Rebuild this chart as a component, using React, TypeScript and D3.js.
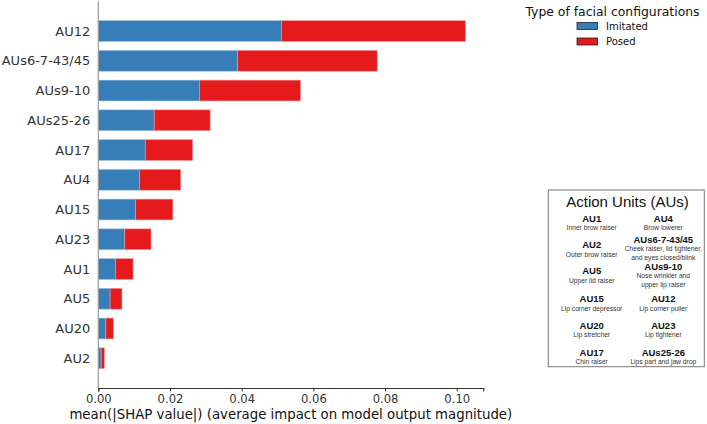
import React, { useEffect, useRef } from 'react';
import * as d3 from 'd3';

const categories = [
  'AU12',
  'AUs6-7-43/45',
  'AUs9-10',
  'AUs25-26',
  'AU17',
  'AU4',
  'AU15',
  'AU23',
  'AU1',
  'AU5',
  'AU20',
  'AU2',
];
const imitated = [0.0511, 0.0389, 0.0282, 0.0156, 0.0131, 0.0115, 0.0104, 0.0074, 0.0048, 0.0033, 0.0021, 0.0008];
const posed = [0.0513, 0.0389, 0.0282, 0.0156, 0.0132, 0.0115, 0.0104, 0.0073, 0.0049, 0.0033, 0.0021, 0.0009];
const seriesNames = ['Imitated', 'Posed'];
const xTicks = [0, 0.02, 0.04, 0.06, 0.08, 0.1];

// legend box of the action units: [left column, right column]
const auRows = [
  [{ code: 'AU1', desc: ['Inner brow raiser'] }, { code: 'AU4', desc: ['Brow lowerer'] }],
  [
    { code: 'AU2', desc: ['Outer brow raiser'] },
    { code: 'AUs6-7-43/45', desc: ['Cheek raiser, lid tightener,', 'and eyes closed/blink'] },
  ],
  [{ code: 'AU5', desc: ['Upper lid raiser'] }, { code: 'AUs9-10', desc: ['Nose wrinkler and', 'upper lip raiser'] }],
  [{ code: 'AU15', desc: ['Lip corner depressor'] }, { code: 'AU12', desc: ['Lip corner puller'] }],
  [{ code: 'AU20', desc: ['Lip stretcher'] }, { code: 'AU23', desc: ['Lip tightener'] }],
  [{ code: 'AU17', desc: ['Chin raiser'] }, { code: 'AUs25-26', desc: ['Lips part and jaw drop'] }],
];

const COLORS = ['#377eb8', '#e41a1c'];
const FONT = '"DejaVu Sans", sans-serif';
const BOX_FONT = '"Liberation Sans", Arial, sans-serif';

const App = () => {
  const svgRef = useRef<SVGSVGElement>(null);

  useEffect(() => {
    drawChart(svgRef);
  }, [svgRef]);

  return (
    <svg
      ref={svgRef}
      width={707}
      height={424}
      style={{ position: 'absolute', left: 0, top: 0, background: '#fff' }}
    ></svg>
  );
};

function drawChart(svgRef: React.RefObject<SVGSVGElement>) {
  const svg = d3.select(svgRef.current);
  svg.selectAll('*').remove();

  const n = categories.length;
  const x = d3.scaleLinear().domain([0, 0.1074]).range([98.3, 483.3]);
  // matplotlib style: row 0 at the bottom, ylim (-1, n)
  const y = d3.scaleLinear().domain([-1, n]).range([388, 1.3]);
  const rowPos = (i: number) => n - 1 - i;

  const table = categories.map((c, i) => ({ name: c, Imitated: imitated[i], Posed: posed[i], idx: i }));
  const stacked = d3.stack<any>().keys(seriesNames)(table);

  const barH = y(0) - y(0.7);

  stacked.forEach((layer, k) => {
    svg
      .append('g')
      .selectAll('rect')
      .data(layer)
      .enter()
      .append('rect')
      .attr('x', (d) => x(d[0]))
      .attr('width', (d) => x(d[1]) - x(d[0]))
      .attr('y', (d) => y(rowPos(d.data.idx) + 0.35))
      .attr('height', barH)
      .attr('fill', COLORS[k])
      .attr('stroke', k === 0 ? '#9cc0e0' : '#f29a9b')
      .attr('stroke-width', 0.6);
  });

  // left spine
  svg
    .append('line')
    .attr('x1', x(0))
    .attr('x2', x(0))
    .attr('y1', y(n))
    .attr('y2', y(-1))
    .attr('stroke', '#999')
    .attr('stroke-width', 1.2);

  // y labels
  svg
    .append('g')
    .selectAll('text')
    .data(categories)
    .enter()
    .append('text')
    .attr('x', x(0) - 8)
    .attr('y', (_, i) => y(rowPos(i)))
    .attr('dy', '0.36em')
    .attr('text-anchor', 'end')
    .style('font-family', FONT)
    .style('font-size', '13px')
    .attr('fill', '#333')
    .text((d) => d);

  // x axis
  const xAxis = svg
    .append('g')
    .attr('transform', 'translate(0,' + y(-1) + ')')
    .call(
      d3
        .axisBottom(x)
        .tickValues(xTicks)
        .tickFormat(d3.format('.2f'))
        .tickSizeOuter(0)
        .tickSize(3.5)
        .tickPadding(3.5)
    );
  xAxis.select('.domain').attr('stroke', '#333').attr('stroke-width', 1.2);
  xAxis.selectAll('.tick line').attr('stroke', '#333');
  xAxis.selectAll('.tick text').attr('fill', '#333').style('font-family', FONT).style('font-size', '11.6px');

  svg
    .append('text')
    .attr('x', (x.range()[0] + x.range()[1]) / 2)
    .attr('y', 419)
    .attr('text-anchor', 'middle')
    .style('font-family', FONT)
    .style('font-size', '13.3px')
    .attr('fill', '#111')
    .text('mean(|SHAP value|) (average impact on model output magnitude)');

  // legend
  const legend = svg.append('g');
  legend
    .append('text')
    .attr('x', 612.5)
    .attr('y', 15.5)
    .attr('text-anchor', 'middle')
    .style('font-family', FONT)
    .style('font-size', '12.4px')
    .attr('fill', '#111')
    .text('Type of facial configurations');
  seriesNames.forEach((s, k) => {
    const cy = 26 + k * 15.5;
    legend
      .append('rect')
      .attr('x', 577)
      .attr('y', cy - 3.5)
      .attr('width', 20.5)
      .attr('height', 7)
      .attr('fill', COLORS[k])
      .attr('stroke', '#222')
      .attr('stroke-width', 0.8);
    legend
      .append('text')
      .attr('x', 606)
      .attr('y', cy)
      .attr('dy', '0.36em')
      .style('font-family', FONT)
      .style('font-size', '10px')
      .attr('fill', '#111')
      .text(s);
  });

  // action units box
  const box = svg.append('g');
  box
    .append('rect')
    .attr('x', 548.3)
    .attr('y', 190)
    .attr('width', 156)
    .attr('height', 176.7)
    .attr('fill', '#fff')
    .attr('stroke', '#777')
    .attr('stroke-width', 1);
  box
    .append('text')
    .attr('x', 627.5)
    .attr('y', 201.7)
    .attr('dy', '0.35em')
    .attr('text-anchor', 'middle')
    .style('font-family', BOX_FONT)
    .style('font-size', '15px')
    .attr('fill', '#111')
    .text('Action Units (AUs)');

  const colX = [591.7, 663.3];
  const codeY = [
    [218.3, 218.3],
    [245, 239.3],
    [271, 266.7],
    [299, 299],
    [325.7, 325.7],
    [352.3, 352.3],
  ];
  auRows.forEach((row, r) => {
    row.forEach((au, c) => {
      const cy = codeY[r][c];
      box
        .append('text')
        .attr('x', colX[c])
        .attr('y', cy)
        .attr('dy', '0.35em')
        .attr('text-anchor', 'middle')
        .style('font-family', BOX_FONT)
        .style('font-weight', 'bold')
        .style('font-size', '9.5px')
        .attr('fill', '#111')
        .text(au.code);
      au.desc.forEach((line, j) => {
        box
          .append('text')
          .attr('x', colX[c])
          .attr('y', cy + 9.4 + j * 8.5)
          .attr('dy', '0.35em')
          .attr('text-anchor', 'middle')
          .style('font-family', BOX_FONT)
          .style('font-size', '6.7px')
          .attr('fill', '#333')
          .text(line);
      });
    });
  });
}

export default App;
